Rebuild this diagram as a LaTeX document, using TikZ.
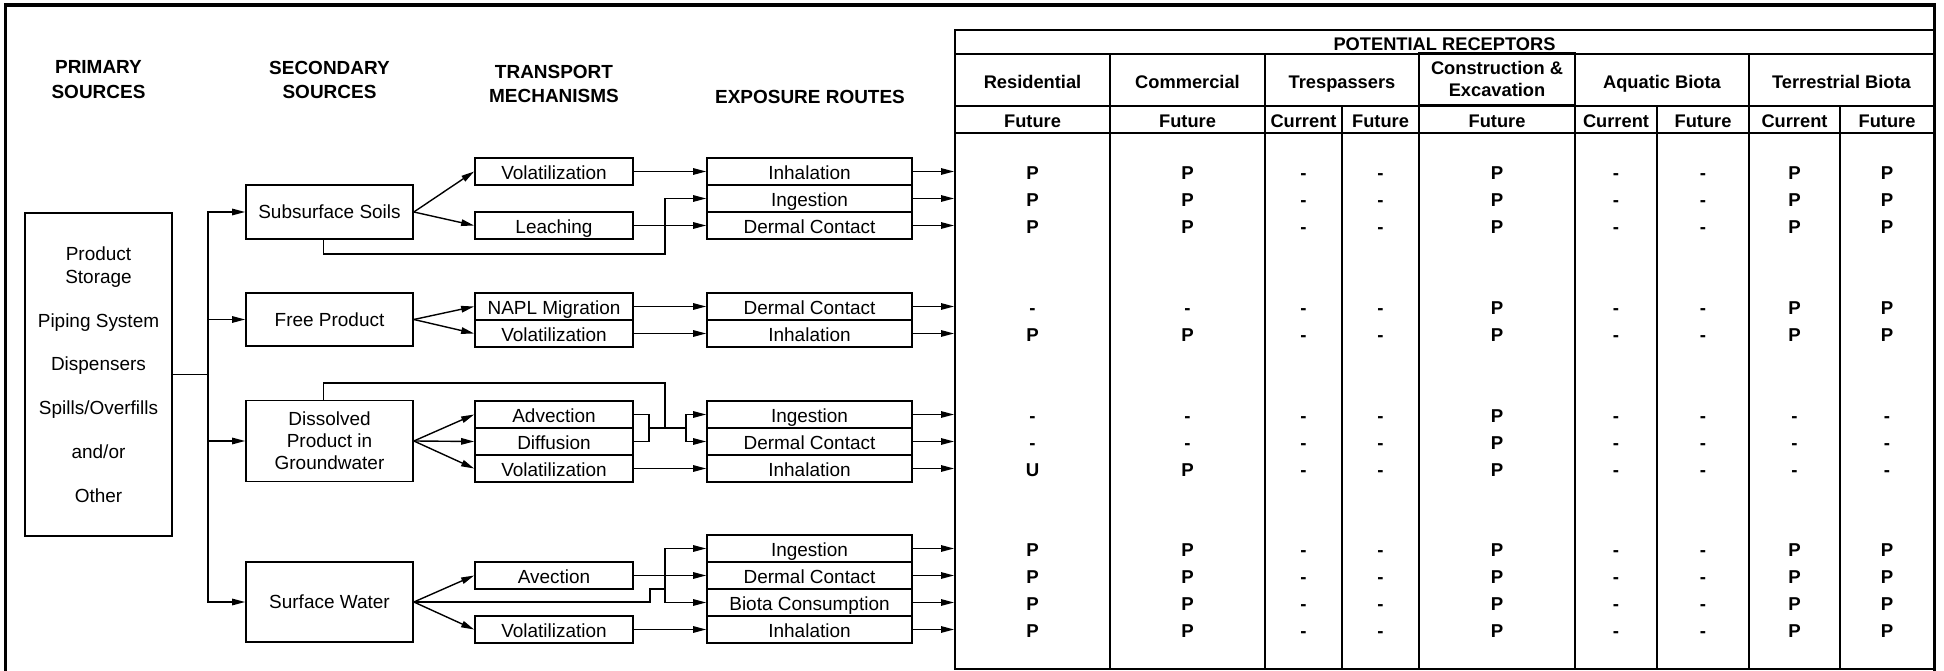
\documentclass[tikz,border=0pt]{standalone}
\usepackage{fontspec}
\setmainfont{Liberation Sans}
\usetikzlibrary{arrows.meta}

\begin{document}
\begin{tikzpicture}[x=0.02cm,y=-0.02cm,font=\fontsize{10.8}{13}\selectfont,
  >={Triangle[length=0.26cm,width=0.13cm]},
  box/.style={draw,line width=0.035cm,inner sep=0pt,text height=9.2pt,text depth=0pt},
  tbox/.style={box,minimum width=3.16cm,minimum height=0.54cm},
  ebox/.style={box,minimum width=4.1cm,minimum height=0.54cm},
  sbox/.style={draw,line width=0.035cm,inner sep=0pt,align=center,minimum width=3.34cm,font=\fontsize{10.8}{12.5}\selectfont},
  head/.style={align=center,font=\fontsize{10.8}{14.2}\selectfont\bfseries},
  link/.style={line width=0.028cm},
  cell/.style={draw,line width=0.04cm,inner sep=0pt,text height=9.2pt,text depth=0pt,font=\fontsize{10.4}{12.5}\selectfont\bfseries},
  val/.style={inner sep=0pt,text height=9.2pt,text depth=0pt,font=\fontsize{10.6}{12}\selectfont\bfseries},
  outerframe/.style={line width=0.066cm}]
\useasboundingbox (0,0) rectangle (1944,671);
% column titles
\node[head] (hprim) at (98.5,80) {PRIMARY\\SOURCES};
\node[head] (hsec) at (329.5,80) {SECONDARY\\SOURCES};
\node[head] (htra) at (554,84) {TRANSPORT\\MECHANISMS};
\node[head] (hexp) at (810,97) {EXPOSURE ROUTES};
% sources
\node[draw,line width=0.035cm,inner sep=0pt,align=center,minimum width=2.94cm,minimum height=6.46cm,font=\fontsize{10.8}{13}\selectfont] (prim) at (98.5,374.5) {Product\\Storage\\[11.9pt]Piping System\\[11.9pt]Dispensers\\[11.9pt]Spills/Overfills\\[11.9pt]and/or\\[11.9pt]Other};
\node[sbox,minimum height=1.08cm] (ss) at (329.5,212) {Subsurface Soils};
\node[sbox,minimum height=1.06cm] (fp) at (329.5,319.5) {Free Product};
\node[sbox,minimum height=1.62cm] (dp) at (329.5,441) {Dissolved\\Product in\\Groundwater};
\node[sbox,minimum height=1.6cm] (sw) at (329.5,602) {Surface Water};
% transport mechanisms
\node[tbox] (tv1) at (554,171.5) {Volatilization};
\node[tbox] (tlea) at (554,225.5) {Leaching};
\node[tbox] (tnapl) at (554,306.5) {NAPL Migration};
\node[tbox] (tv2) at (554,333.5) {Volatilization};
\node[tbox] (tadv) at (554,414.5) {Advection};
\node[tbox] (tdif) at (554,441.5) {Diffusion};
\node[tbox] (tv3) at (554,468.5) {Volatilization};
\node[tbox] (tave) at (554,575.5) {Avection};
\node[tbox] (tv4) at (554,629.5) {Volatilization};
% exposure routes
\node[ebox] (e1) at (809.5,171.5) {Inhalation};
\node[ebox] (e2) at (809.5,198.5) {Ingestion};
\node[ebox] (e3) at (809.5,225.5) {Dermal Contact};
\node[ebox] (e4) at (809.5,306.5) {Dermal Contact};
\node[ebox] (e5) at (809.5,333.5) {Inhalation};
\node[ebox] (e6) at (809.5,414.5) {Ingestion};
\node[ebox] (e7) at (809.5,441.5) {Dermal Contact};
\node[ebox] (e8) at (809.5,468.5) {Inhalation};
\node[ebox] (e9) at (809.5,548.5) {Ingestion};
\node[ebox] (e10) at (809.5,575.5) {Dermal Contact};
\node[ebox] (e11) at (809.5,602.5) {Biota Consumption};
\node[ebox] (e12) at (809.5,629.5) {Inhalation};
% receptor table
\node[cell,minimum width=19.58cm,minimum height=0.48cm] (hpot) at (1444.5,42) {POTENTIAL RECEPTORS};
\node[cell,minimum width=3.1cm,minimum height=1.04cm] (hres) at (1032.5,80) {Residential};
\node[cell,minimum width=3.1cm,minimum height=1.04cm] (hcom) at (1187.5,80) {Commercial};
\node[cell,minimum width=3.08cm,minimum height=1.04cm] (htre) at (1342,80) {Trespassers};
\node[cell,minimum width=3.12cm,minimum height=1.04cm,text height={},text depth={},align=center] (hcon) at (1497,79) {Construction \&\\Excavation};
\node[cell,minimum width=3.48cm,minimum height=1.04cm] (haqu) at (1662,80) {Aquatic Biota};
\node[cell,minimum width=3.7cm,minimum height=1.04cm] (hter) at (1841.5,80) {Terrestrial Biota};
\node[cell,minimum width=3.1cm,minimum height=0.54cm] (s1) at (1032.5,119.5) {Future};
\node[cell,minimum width=3.1cm,minimum height=0.54cm] (s2) at (1187.5,119.5) {Future};
\node[cell,minimum width=1.54cm,minimum height=0.54cm] (s3) at (1303.5,119.5) {Current};
\node[cell,minimum width=1.54cm,minimum height=0.54cm] (s4) at (1380.5,119.5) {Future};
\node[cell,minimum width=3.12cm,minimum height=0.54cm] (s5) at (1497,119.5) {Future};
\node[cell,minimum width=1.64cm,minimum height=0.54cm] (s6) at (1616,119.5) {Current};
\node[cell,minimum width=1.84cm,minimum height=0.54cm] (s7) at (1703,119.5) {Future};
\node[cell,minimum width=1.82cm,minimum height=0.54cm] (s8) at (1794.5,119.5) {Current};
\node[cell,minimum width=1.88cm,minimum height=0.54cm] (s9) at (1887,119.5) {Future};
\node[cell,minimum width=3.1cm,minimum height=10.72cm] (b1) at (1032.5,401) {};
\node[cell,minimum width=3.1cm,minimum height=10.72cm] (b2) at (1187.5,401) {};
\node[cell,minimum width=1.54cm,minimum height=10.72cm] (b3) at (1303.5,401) {};
\node[cell,minimum width=1.54cm,minimum height=10.72cm] (b4) at (1380.5,401) {};
\node[cell,minimum width=3.12cm,minimum height=10.72cm] (b5) at (1497,401) {};
\node[cell,minimum width=1.64cm,minimum height=10.72cm] (b6) at (1616,401) {};
\node[cell,minimum width=1.84cm,minimum height=10.72cm] (b7) at (1703,401) {};
\node[cell,minimum width=1.82cm,minimum height=10.72cm] (b8) at (1794.5,401) {};
\node[cell,minimum width=1.88cm,minimum height=10.72cm] (b9) at (1887,401) {};
% table entries, one row per exposure route
\path (e1-|b1) node[val] (v1a) {P} (e1-|b2) node[val] (v1b) {P} (e1-|b3) node[val] (v1c) {-} (e1-|b4) node[val] (v1d) {-} (e1-|b5) node[val] (v1e) {P} (e1-|b6) node[val] (v1f) {-} (e1-|b7) node[val] (v1g) {-} (e1-|b8) node[val] (v1h) {P} (e1-|b9) node[val] (v1i) {P};
\path (e2-|b1) node[val] (v2a) {P} (e2-|b2) node[val] (v2b) {P} (e2-|b3) node[val] (v2c) {-} (e2-|b4) node[val] (v2d) {-} (e2-|b5) node[val] (v2e) {P} (e2-|b6) node[val] (v2f) {-} (e2-|b7) node[val] (v2g) {-} (e2-|b8) node[val] (v2h) {P} (e2-|b9) node[val] (v2i) {P};
\path (e3-|b1) node[val] (v3a) {P} (e3-|b2) node[val] (v3b) {P} (e3-|b3) node[val] (v3c) {-} (e3-|b4) node[val] (v3d) {-} (e3-|b5) node[val] (v3e) {P} (e3-|b6) node[val] (v3f) {-} (e3-|b7) node[val] (v3g) {-} (e3-|b8) node[val] (v3h) {P} (e3-|b9) node[val] (v3i) {P};
\path (e4-|b1) node[val] (v4a) {-} (e4-|b2) node[val] (v4b) {-} (e4-|b3) node[val] (v4c) {-} (e4-|b4) node[val] (v4d) {-} (e4-|b5) node[val] (v4e) {P} (e4-|b6) node[val] (v4f) {-} (e4-|b7) node[val] (v4g) {-} (e4-|b8) node[val] (v4h) {P} (e4-|b9) node[val] (v4i) {P};
\path (e5-|b1) node[val] (v5a) {P} (e5-|b2) node[val] (v5b) {P} (e5-|b3) node[val] (v5c) {-} (e5-|b4) node[val] (v5d) {-} (e5-|b5) node[val] (v5e) {P} (e5-|b6) node[val] (v5f) {-} (e5-|b7) node[val] (v5g) {-} (e5-|b8) node[val] (v5h) {P} (e5-|b9) node[val] (v5i) {P};
\path (e6-|b1) node[val] (v6a) {-} (e6-|b2) node[val] (v6b) {-} (e6-|b3) node[val] (v6c) {-} (e6-|b4) node[val] (v6d) {-} (e6-|b5) node[val] (v6e) {P} (e6-|b6) node[val] (v6f) {-} (e6-|b7) node[val] (v6g) {-} (e6-|b8) node[val] (v6h) {-} (e6-|b9) node[val] (v6i) {-};
\path (e7-|b1) node[val] (v7a) {-} (e7-|b2) node[val] (v7b) {-} (e7-|b3) node[val] (v7c) {-} (e7-|b4) node[val] (v7d) {-} (e7-|b5) node[val] (v7e) {P} (e7-|b6) node[val] (v7f) {-} (e7-|b7) node[val] (v7g) {-} (e7-|b8) node[val] (v7h) {-} (e7-|b9) node[val] (v7i) {-};
\path (e8-|b1) node[val] (v8a) {U} (e8-|b2) node[val] (v8b) {P} (e8-|b3) node[val] (v8c) {-} (e8-|b4) node[val] (v8d) {-} (e8-|b5) node[val] (v8e) {P} (e8-|b6) node[val] (v8f) {-} (e8-|b7) node[val] (v8g) {-} (e8-|b8) node[val] (v8h) {-} (e8-|b9) node[val] (v8i) {-};
\path (e9-|b1) node[val] (v9a) {P} (e9-|b2) node[val] (v9b) {P} (e9-|b3) node[val] (v9c) {-} (e9-|b4) node[val] (v9d) {-} (e9-|b5) node[val] (v9e) {P} (e9-|b6) node[val] (v9f) {-} (e9-|b7) node[val] (v9g) {-} (e9-|b8) node[val] (v9h) {P} (e9-|b9) node[val] (v9i) {P};
\path (e10-|b1) node[val] (v10a) {P} (e10-|b2) node[val] (v10b) {P} (e10-|b3) node[val] (v10c) {-} (e10-|b4) node[val] (v10d) {-} (e10-|b5) node[val] (v10e) {P} (e10-|b6) node[val] (v10f) {-} (e10-|b7) node[val] (v10g) {-} (e10-|b8) node[val] (v10h) {P} (e10-|b9) node[val] (v10i) {P};
\path (e11-|b1) node[val] (v11a) {P} (e11-|b2) node[val] (v11b) {P} (e11-|b3) node[val] (v11c) {-} (e11-|b4) node[val] (v11d) {-} (e11-|b5) node[val] (v11e) {P} (e11-|b6) node[val] (v11f) {-} (e11-|b7) node[val] (v11g) {-} (e11-|b8) node[val] (v11h) {P} (e11-|b9) node[val] (v11i) {P};
\path (e12-|b1) node[val] (v12a) {P} (e12-|b2) node[val] (v12b) {P} (e12-|b3) node[val] (v12c) {-} (e12-|b4) node[val] (v12d) {-} (e12-|b5) node[val] (v12e) {P} (e12-|b6) node[val] (v12f) {-} (e12-|b7) node[val] (v12g) {-} (e12-|b8) node[val] (v12h) {P} (e12-|b9) node[val] (v12i) {P};
% junction points
\coordinate (trunk) at (208,374.5);
\coordinate (jsoil) at (665,254);
\coordinate (ctop) at (665,383);
\coordinate (jdiss) at (665,428);
\coordinate (jbrk) at (649,428);
\coordinate (jsplit) at (686,428);
\coordinate (jstep) at (650,589);
\coordinate (jsurf) at (665,589);
% primary to secondary
\draw[link] (prim.east) -- (trunk);
\draw[link,->] (trunk) |- (ss.west);
\draw[link,->] (trunk) |- (fp.west);
\draw[link,->] (trunk) |- (dp.west);
\draw[link,->] (trunk) |- (sw.west);
% subsurface soils
\draw[link,->] (ss.east) -- (tv1.west);
\draw[link,->] (ss.east) -- (tlea.west);
\draw[link,->] (tv1.east) -- (e1.west);
\draw[link,->] (tlea.east) -- (e3.west);
\draw[link,->] ([xshift=-0.12cm]ss.south) |- (jsoil) |- (e2.west);
% free product
\draw[link,->] (fp.east) -- (tnapl.west);
\draw[link,->] (fp.east) -- (tv2.west);
\draw[link,->] (tnapl.east) -- (e4.west);
\draw[link,->] (tv2.east) -- (e5.west);
% dissolved product
\draw[link,->] (dp.east) -- (tadv.west);
\draw[link,->] (dp.east) -- (tdif.west);
\draw[link,->] (dp.east) -- (tv3.west);
\draw[link] ([xshift=-0.12cm]dp.north) |- (ctop) -- (jdiss);
\draw[link] (tadv.east) -| (jbrk) |- (tdif.east);
\draw[link] (jbrk) -- (jsplit);
\draw[link,->] (jsplit) |- (e6.west);
\draw[link,->] (jsplit) |- (e7.west);
\draw[link,->] (tv3.east) -- (e8.west);
% surface water
\draw[link,->] (sw.east) -- (tave.west);
\draw[link,->] (sw.east) -- (tv4.west);
\draw[link,->] (tave.east) -- (e10.west);
\draw[link,->] (tv4.east) -- (e12.west);
\draw[link] (sw.east) -| (jstep) -- (jsurf);
\draw[link,->] (jsurf) |- (e9.west);
\draw[link,->] (jsurf) |- (e11.west);
% routes into the table
\draw[link,->] (e1.east) -- (e1.east-|b1.west);
\draw[link,->] (e2.east) -- (e2.east-|b1.west);
\draw[link,->] (e3.east) -- (e3.east-|b1.west);
\draw[link,->] (e4.east) -- (e4.east-|b1.west);
\draw[link,->] (e5.east) -- (e5.east-|b1.west);
\draw[link,->] (e6.east) -- (e6.east-|b1.west);
\draw[link,->] (e7.east) -- (e7.east-|b1.west);
\draw[link,->] (e8.east) -- (e8.east-|b1.west);
\draw[link,->] (e9.east) -- (e9.east-|b1.west);
\draw[link,->] (e10.east) -- (e10.east-|b1.west);
\draw[link,->] (e11.east) -- (e11.east-|b1.west);
\draw[link,->] (e12.east) -- (e12.east-|b1.west);
\draw[outerframe] (5.5,5) rectangle (1934.5,700);
\end{tikzpicture}
\end{document}
